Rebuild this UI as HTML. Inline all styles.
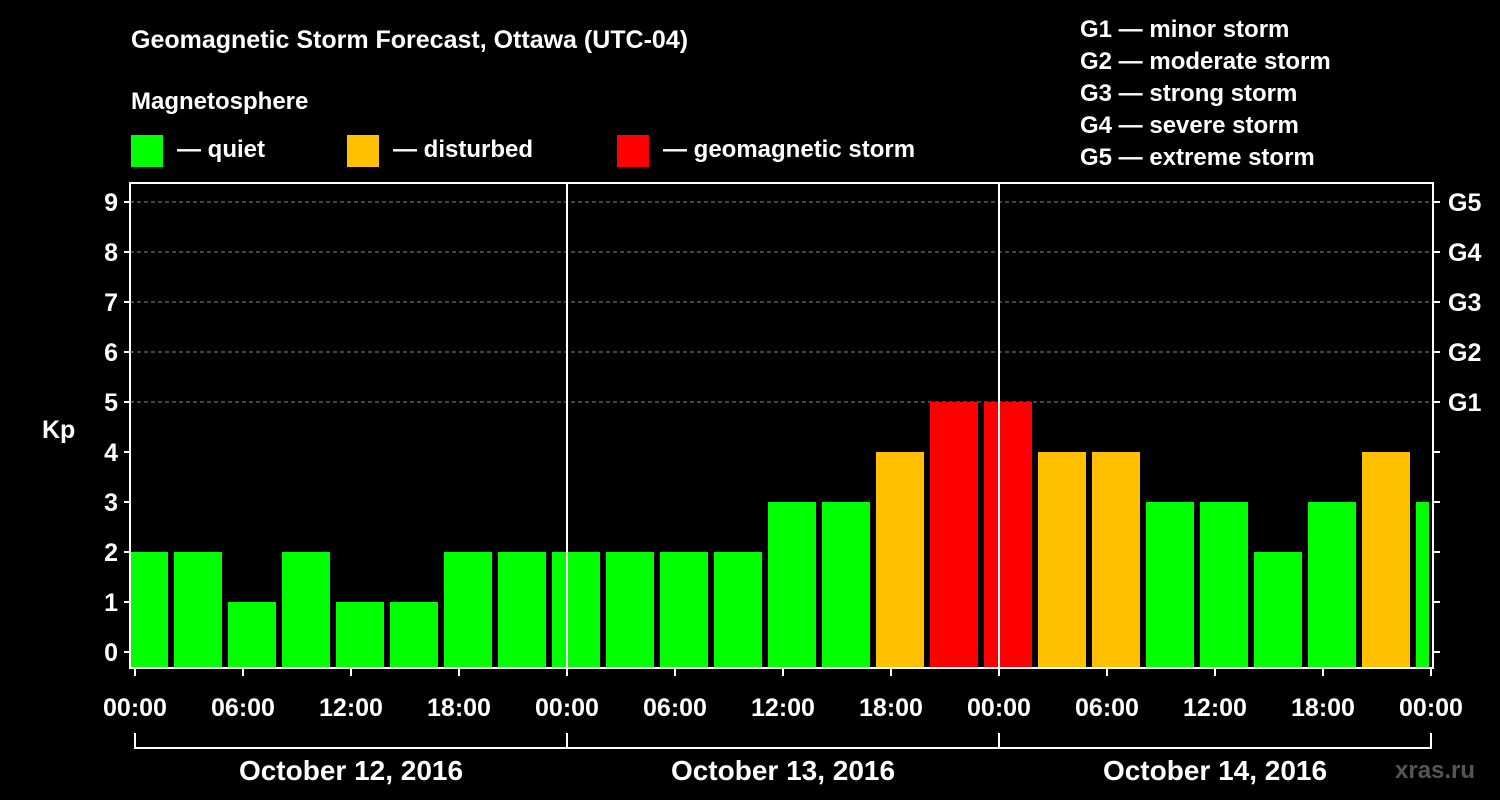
<!DOCTYPE html>
<html><head><meta charset="utf-8"><style>
html,body{margin:0;padding:0;background:#000;}
svg{display:block;font-family:"Liberation Sans",Arial,sans-serif;font-weight:bold;}
</style></head><body>
<svg id="chart" width="1500" height="800" viewBox="0 0 1500 800">
<rect width="1500" height="800" fill="#000"/>
<text x="131" y="48" fill="#fff" font-size="25">Geomagnetic Storm Forecast, Ottawa (UTC-04)</text>
<text x="131" y="109" fill="#fff" font-size="24">Magnetosphere</text>
<g><rect x="131" y="135" width="32" height="32" fill="#00ff00"/><text x="177" y="157" fill="#fff" font-size="24">— quiet</text></g>
<g><rect x="347" y="135" width="32" height="32" fill="#ffc000"/><text x="393" y="157" fill="#fff" font-size="24">— disturbed</text></g>
<g><rect x="617" y="135" width="32" height="32" fill="#ff0000"/><text x="663" y="157" fill="#fff" font-size="24">— geomagnetic storm</text></g>
<g fill="#fff" font-size="24">
<text x="1080" y="37">G1 — minor storm</text><text x="1080" y="69">G2 — moderate storm</text><text x="1080" y="101">G3 — strong storm</text><text x="1080" y="133">G4 — severe storm</text><text x="1080" y="165">G5 — extreme storm</text>
</g>
<text x="42" y="438" fill="#fff" font-size="25">Kp</text>
<text x="1395" y="778" fill="#555" font-size="24">xras.ru</text>
<g id="plot"></g>
</svg>
<script>
const kpValues=[2,2,1,2,1,1,2,2,2,2,2,2,3,3,4,5,5,4,4,3,3,2,3,4,3];
const yTicks=[0,1,2,3,4,5,6,7,8,9];
const gLabels=["G1","G2","G3","G4","G5"];
const xTickLabels=["00:00","06:00","12:00","18:00","00:00","06:00","12:00","18:00","00:00","06:00","12:00","18:00","00:00"];
const dateLabels=["October 12, 2016","October 13, 2016","October 14, 2016"];
const NS="http://www.w3.org/2000/svg";
const X0=135,PXH=18,L=130,R=1433,T=183,B=668;
const xs=h=>X0+h*PXH;
const ys=v=>652-v*50;
const plot=document.getElementById('plot');
function mk(tag,attrs,parent){const e=document.createElementNS(NS,tag);for(const k in attrs)e.setAttribute(k,attrs[k]);(parent||plot).appendChild(e);return e;}
const clip=mk('clipPath',{id:'pc'});mk('rect',{x:L+1,y:T,width:R-L-5,height:B-T},clip);
// grid
yTicks.forEach(v=>{
 if(v>=5){const g=mk('line',{x1:L,x2:R,y1:ys(v),y2:ys(v),stroke:'#888','stroke-dasharray':'4,3','stroke-width':1});
 
 }
 const t=mk('text',{x:118,y:ys(v)+9,fill:'#fff','font-size':25,'text-anchor':'end'});t.textContent=v;
 
 
 mk('line',{x1:L-6,x2:L,y1:ys(v),y2:ys(v),stroke:'#fff','stroke-width':2});
 mk('line',{x1:R,x2:R+7,y1:ys(v),y2:ys(v),stroke:'#fff','stroke-width':2});
});
gLabels.forEach((g,i)=>{const t=mk('text',{x:1448,y:ys(5+i)+9,fill:'#fff','font-size':25});t.textContent=g;
 
 });
// bars
const bg=mk('g',{'clip-path':'url(#pc)'});
kpValues.forEach((v,i)=>{const c=xs(0.5+3*i);
 const col=v>=5?'#ff0000':v>=4?'#ffc000':'#00ff00';
 const r=mk('rect',{x:c-24,y:ys(v),width:48,height:B-ys(v),fill:col},bg);
 
 });
// frame
mk('rect',{x:L,y:T,width:R-L,height:B-T,fill:'none',stroke:'#fff','stroke-width':2});
[24,48].forEach(h=>mk('line',{x1:xs(h),x2:xs(h),y1:T,y2:B,stroke:'#fff','stroke-width':2}));
xTickLabels.forEach((lab,i)=>{const x=xs(i*6);
 mk('line',{x1:x,x2:x,y1:B,y2:B+8,stroke:'#fff','stroke-width':2});
 const t=mk('text',{x:x,y:716,fill:'#fff','font-size':25,'text-anchor':'middle'});t.textContent=lab;
 
 });
mk('line',{x1:xs(0),x2:xs(72),y1:748,y2:748,stroke:'#fff','stroke-width':2});
[0,24,48,72].forEach(h=>mk('line',{x1:xs(h),x2:xs(h),y1:733,y2:749,stroke:'#fff','stroke-width':2}));
dateLabels.forEach((d,i)=>{const t=mk('text',{x:xs(12+24*i),y:780,fill:'#fff','font-size':28,'text-anchor':'middle'});t.textContent=d;
 
 });
</script>
</body></html>
